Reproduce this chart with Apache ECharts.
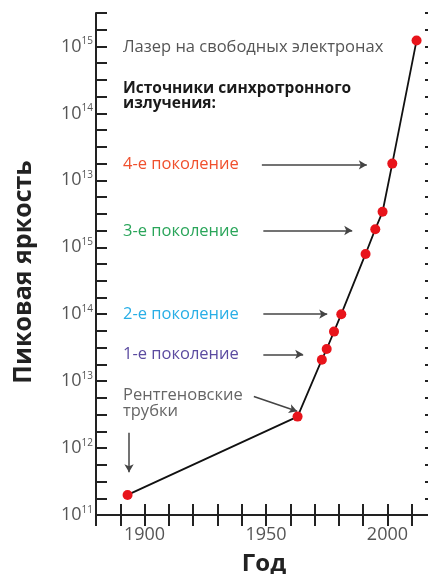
<!DOCTYPE html>
<html>
<head>
<meta charset="utf-8">
<title>Пиковая яркость</title>
<script src="https://cdn.jsdelivr.net/npm/echarts@6/dist/echarts.min.js"></script>
<style>
  html, body { margin: 0; padding: 0; background: #fff; }
  #chart { width: 428px; height: 574px; }
</style>
</head>
<body>
<div id="chart"></div>
<script>
  // годы и "декады" яркости (0 = нижняя метка оси)
  var years = [1893, 1963, 1973, 1975, 1978, 1981, 1991, 1995, 1998, 2002, 2012];
  var levels = [0.3, 1.47, 2.32, 2.48, 2.74, 3.0, 3.9, 4.27, 4.53, 5.25, 7.09];

  // подписи оси Y снизу вверх (как на исходной картинке)
  var yExponents = ['11', '12', '13', '14', '15', '13', '14', '15'];
  var xLabels = ['1900', '1950', '2000'];

  // стрелки-указатели: [x1, y1, x2, y2] в единицах осей
  var arrows = [
    [1948.3, 5.23, 1991.5, 5.23],
    [1948.9, 4.25, 1985.5, 4.25],
    [1948.9, 3.0, 1975.2, 3.0],
    [1948.9, 2.40, 1965.3, 2.40],
    [1945.0, 1.77, 1962.8, 1.55],
    [1893.6, 1.23, 1893.6, 0.64]
  ];

  var font = 'Open Sans';
  var axisColor = '#222';

  var chart = echarts.init(document.getElementById('chart'));

  var seriesData = years.map(function (y, i) { return [y, levels[i]]; });

  var arrowLines = arrows.map(function (a) {
    return [{ coord: [a[0], a[1]] }, { coord: [a[2], a[3]] }];
  });

  function txt(x, y, text, color, weight, size) {
    size = size || 16.5;
    return {
      type: 'text', left: x, top: y,
      style: {
        text: text, fill: color, font: (weight || 'normal') + ' ' + size + 'px "' + font + '"',
        lineHeight: size - 1
      }
    };
  }

  chart.setOption({
    animation: false,
    textStyle: { fontFamily: font },
    grid: { left: 96, top: 13, bottom: 59, width: 340, containLabel: false, outerBoundsMode: 'none' },
    xAxis: [{
      type: 'value', min: 1880, max: 2020, interval: 10,
      name: 'Год', nameLocation: 'middle', nameGap: 37,
      nameTextStyle: { fontSize: 24, fontWeight: 'bold', color: axisColor, padding: [0, 4, 0, 0] },
      axisLine: { lineStyle: { color: axisColor, width: 2 } },
      axisTick: { inside: true, length: 11, lineStyle: { color: axisColor, width: 2 } },
      axisLabel: {
        color: '#555', fontSize: 18, margin: 11,
        formatter: function (v) { return xLabels.indexOf(String(v)) >= 0 ? v : ''; }
      },
      splitLine: { show: false }
    }, {
      type: 'value', min: 1880, max: 2020, interval: 10, position: 'top',
      axisLine: { lineStyle: { color: axisColor, width: 2 } },
      axisTick: { inside: true, length: 11, lineStyle: { color: axisColor, width: 2 } },
      axisLabel: { show: false },
      splitLine: { show: false }
    }],
    yAxis: [{
      type: 'value', min: 0, max: 7.5, interval: 0.25,
      name: 'Пиковая яркость', nameLocation: 'middle', nameGap: 60,
      nameTextStyle: { fontSize: 25, fontWeight: 'bold', color: axisColor, padding: [0, 16, 0, 0] },
      axisLine: { show: true, lineStyle: { color: axisColor, width: 2 } },
      axisTick: { inside: true, length: 11, lineStyle: { color: axisColor, width: 2 } },
      axisLabel: {
        margin: 3,
        formatter: function (v) {
          return Number.isInteger(v) ? '{b|10}{s|' + yExponents[v] + '}' : '';
        },
        rich: {
          b: { fontSize: 18, color: '#555', fontFamily: font },
          s: { fontSize: 10, color: '#555', fontFamily: font, padding: [0, 0, 10, 0] }
        }
      },
      splitLine: { show: false }
    }, {
      type: 'value', min: 0, max: 7.5, interval: 0.25, position: 'right',
      axisLine: { show: true, lineStyle: { color: axisColor, width: 2 } },
      axisTick: { inside: true, length: 11, lineStyle: { color: axisColor, width: 2 } },
      axisLabel: { show: false },
      splitLine: { show: false }
    }],
    series: [{
      type: 'line',
      data: seriesData,
      symbol: 'circle',
      symbolSize: 10,
      itemStyle: { color: '#e8141b' },
      lineStyle: { color: '#111', width: 1.8 },
      z: 5,
      markLine: {
        silent: true,
        symbol: ['none', 'arrow'],
        symbolSize: [7, 8],
        label: { show: false },
        lineStyle: { color: '#444', width: 1.5, type: 'solid' },
        data: arrowLines
      }
    }],
    graphic: [
      txt(123, 39, 'Лазер на свободных электронах', '#555'),
      txt(123, 81, 'Источники синхротронного\nизлучения:', '#1a1a1a', 'bold', 15.5),
      txt(123, 156, '4-е поколение', '#f0502d'),
      txt(123, 223, '3-е поколение', '#2aa55a'),
      txt(123, 306, '2-е поколение', '#28aee6'),
      txt(123, 346, '1-е поколение', '#5b4ba0'),
      txt(123, 387, 'Рентгеновские\nтрубки', '#666')
    ]
  });
</script>
</body>
</html>
